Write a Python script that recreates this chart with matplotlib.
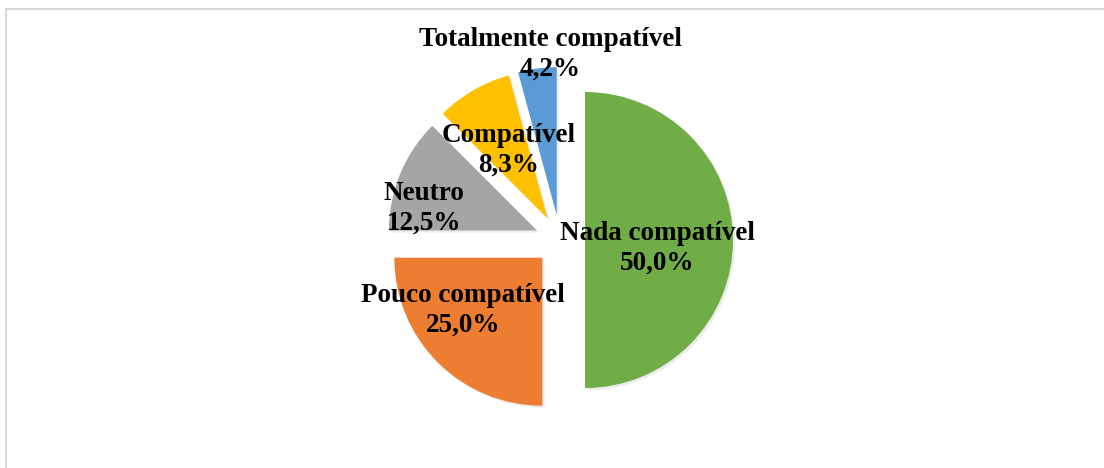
import matplotlib
matplotlib.use('Agg')
import matplotlib.pyplot as plt
import matplotlib.patheffects as pe
from matplotlib.lines import Line2D

# data
CATEGORIES = ['Nada compatível', 'Pouco compatível', 'Neutro', 'Compatível', 'Totalmente compatível']
VALUES = [50.0, 25.0, 12.5, 8.3, 4.2]
LABELS = ['50,0%', '25,0%', '12,5%', '8,3%', '4,2%']
COLORS = ['#70AD47', '#ED7D31', '#A5A5A5', '#FFC000', '#5B9BD5']

W, H = 1104, 468
CENTER = (560, H - 240)
RADIUS = 148
EXPLODE = 25  # absolute offset, in pixels here

# label anchor points in pixel coords (x, baseline of last line from top)
LABEL_POS = [(657, 270), (463, 332), (424, 230), (509, 172), (550, 76)]


def run():
    fig = plt.figure(figsize=(W / 100, H / 100), dpi=100)
    ax = fig.add_axes([0, 0, 1, 1])

    wedges, _ = ax.pie(VALUES, colors=COLORS, startangle=90, counterclock=False,
                       explode=[EXPLODE] * len(VALUES), radius=RADIUS, center=CENTER,
                       wedgeprops=dict(linewidth=0))
    for w in wedges:
        w.set_path_effects([pe.SimplePatchShadow(offset=(1.5, -1.5), shadow_rgbFace='#000000', alpha=0.08),
                            pe.Normal()])

    for cat, lab, (x, y) in zip(CATEGORIES, LABELS, LABEL_POS):
        ax.text(x, H - y, f'{cat}\n{lab}', ha='center', va='baseline', multialignment='center',
                fontsize=19.5, fontweight='bold', family='Liberation Serif', color='black',
                linespacing=1.25)

    ax.set_xlim(0, W)
    ax.set_ylim(0, H)
    ax.set_aspect('equal')
    ax.axis('off')

    # chart area border (only top and left visible)
    fig.add_artist(Line2D([6 / W, 6 / W], [0, 1 - 9 / H], color='#D9D9D9', lw=1.5))
    fig.add_artist(Line2D([6 / W, 1], [1 - 9 / H, 1 - 9 / H], color='#D9D9D9', lw=1.5))

    fig.savefig('out.png', dpi=100)


run()
